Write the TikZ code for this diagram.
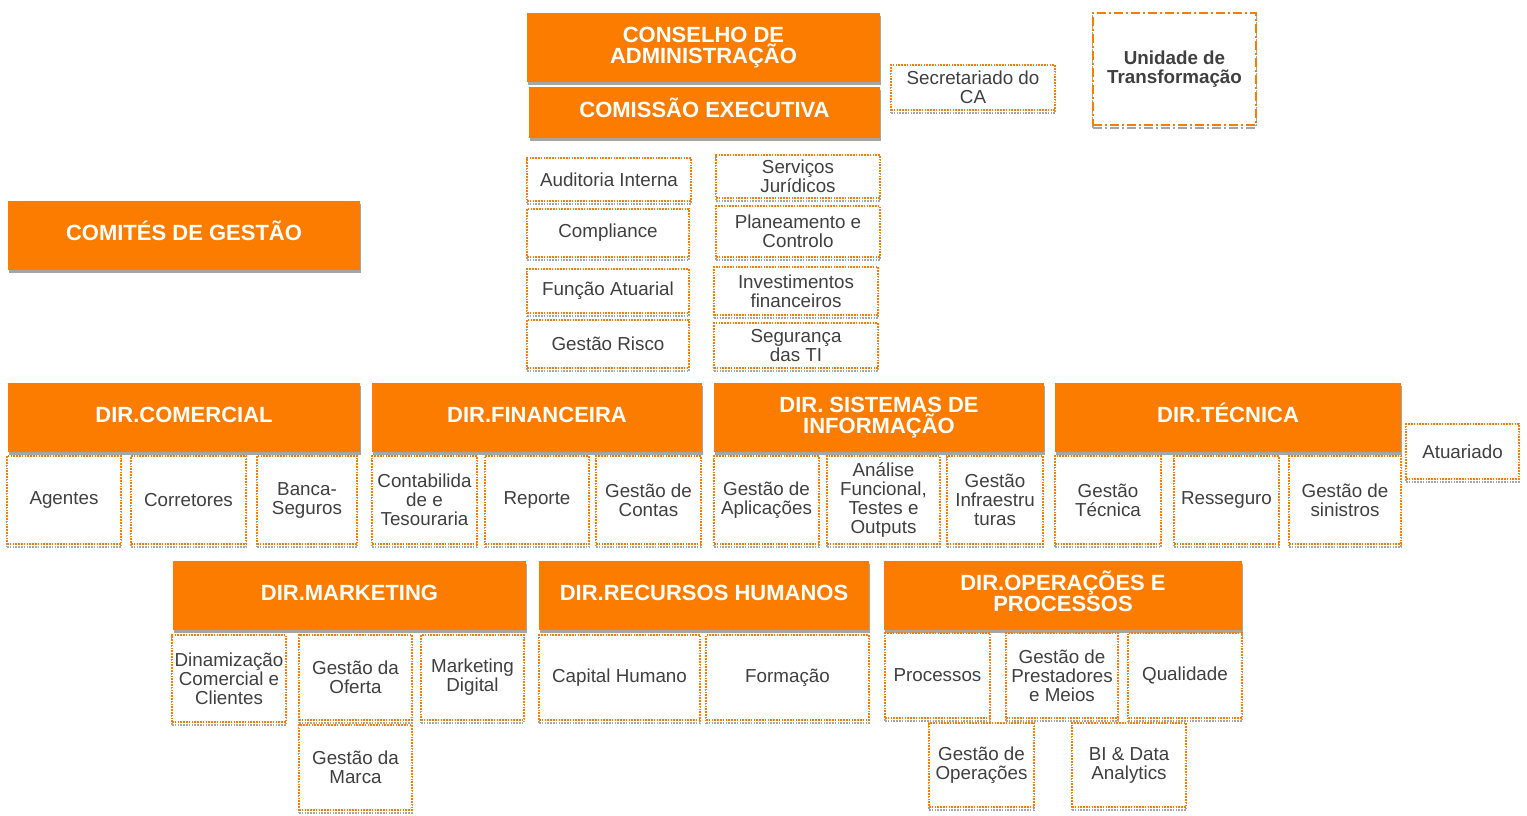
\documentclass[tikz,border=0pt]{standalone}
\usepackage{fontspec}
\setmainfont{Liberation Sans}
\usetikzlibrary{shadows}
\definecolor{org}{RGB}{252,124,0}
\definecolor{txt}{RGB}{64,64,64}
\definecolor{shd}{RGB}{165,165,165}
\tikzset{
 hdr/.style={fill=org, draw=none, text=white, font=\fontsize{22}{20.5}\selectfont\bfseries, align=center, inner sep=0pt,
   general shadow={fill=shd, shadow yshift=-3pt, shadow xshift=0.5pt}},
 hdrone/.style={hdr, text height=15.8pt, text depth=6pt},
 sub/.style={fill=white, draw=org, line width=1.6pt, dash pattern=on 1.6pt off 1.2pt, text=txt,
   font=\fontsize{18.8}{19}\selectfont, align=center, inner sep=0pt,
   general shadow={draw=shd, fill=none, line width=1.6pt, dash pattern=on 1.6pt off 1.2pt, shadow yshift=-3pt}},
 unitbox/.style={fill=white, draw=org, line width=2.2pt, dash pattern=on 9pt off 3pt on 2pt off 3pt, text=txt,
   font=\fontsize{18.8}{19}\selectfont\bfseries, align=center, inner sep=0pt,
   general shadow={draw=shd, fill=none, line width=2.2pt, dash pattern=on 9pt off 3pt on 2pt off 3pt, shadow yshift=-3pt}},
}
\begin{document}
\begin{tikzpicture}[x=1pt,y=-1pt]
\useasboundingbox[fill=white] (0,0) rectangle (1527,816);
% top
\node[hdr, minimum width=353, minimum height=69] (cons) at (703.5,47.5) {CONSELHO DE\\ADMINISTRAÇÃO};
\node[hdrone, minimum width=351, minimum height=51] (comex) at (704.5,112.5) {COMISSÃO EXECUTIVA};
\node[sub, minimum width=164, minimum height=45] (secr) at (973,87.5) {Secretariado do\\CA};
\node[unitbox, minimum width=163, minimum height=112] (unid) at (1174.5,69) {Unidade de\\Transformação};
\node[hdrone, minimum width=352, minimum height=69] (comites) at (184,235.5) {COMITÉS DE GESTÃO};
% staff functions
\node[sub, minimum width=164, minimum height=43] (aud) at (609,179.5) {Auditoria Interna};
\node[sub, minimum width=162, minimum height=48] (comp) at (608,233) {Compliance};
\node[sub, minimum width=162, minimum height=44] (fatu) at (608,291) {Função Atuarial};
\node[sub, minimum width=162, minimum height=48] (grisco) at (608,344) {Gestão Risco};
\node[sub, minimum width=164, minimum height=43] (sjur) at (798,176.5) {Serviços\\Jurídicos};
\node[sub, minimum width=164, minimum height=51] (plan) at (798,231.5) {Planeamento e\\Controlo};
\node[sub, minimum width=164, minimum height=48] (inv) at (796,291) {Investimentos\\financeiros};
\node[sub, minimum width=164, minimum height=45] (seg) at (796,345.5) {Segurança\\das TI};
% directorates row 1
\node[hdrone, minimum width=352, minimum height=69] (dcom) at (184,417.5) {DIR.COMERCIAL};
\node[hdrone, minimum width=330, minimum height=69] (dfin) at (537,417.5) {DIR.FINANCEIRA};
\node[hdr, minimum width=330, minimum height=69] (dsi) at (879,417.5) {DIR. SISTEMAS DE\\INFORMAÇÃO};
\node[hdrone, minimum width=346, minimum height=69] (dtec) at (1228,417.5) {DIR.TÉCNICA};
\node[sub, minimum width=114, minimum height=88] (agentes) at (64,500) {Agentes};
\node[sub, minimum width=115, minimum height=88] (corret) at (188.5,500) {Corretores};
\node[sub, minimum width=100, minimum height=88] (banca) at (307,500) {Banca-\\Seguros};
\node[sub, minimum width=105, minimum height=88] (contab) at (424.5,500) {Contabilida\\de e\\Tesouraria};
\node[sub, minimum width=104, minimum height=88] (reporte) at (537,500) {Reporte};
\node[sub, minimum width=105, minimum height=88] (gcontas) at (648.5,500) {Gestão de\\Contas};
\node[sub, minimum width=105, minimum height=88] (gapl) at (766.5,500) {Gestão de\\Aplicações};
\node[sub, minimum width=113, minimum height=88] (anal) at (883.5,500) {Análise\\Funcional,\\Testes e\\Outputs};
\node[sub, minimum width=96, minimum height=88] (ginfra) at (995,500) {Gestão\\Infraestru\\turas};
\node[sub, minimum width=106, minimum height=88] (gtec) at (1108,500) {Gestão\\Técnica};
\node[sub, minimum width=105, minimum height=88] (ress) at (1226.5,500) {Resseguro};
\node[sub, minimum width=112, minimum height=88] (gsin) at (1345,500) {Gestão de\\sinistros};
\node[sub, minimum width=113, minimum height=55] (atuar) at (1462.5,451.5) {Atuariado};
% directorates row 2
\node[hdrone, minimum width=353, minimum height=69] (dmkt) at (349.5,595.5) {DIR.MARKETING};
\node[hdrone, minimum width=330, minimum height=69] (drh) at (704,595.5) {DIR.RECURSOS HUMANOS};
\node[hdr, text depth=9pt, minimum width=358, minimum height=69] (dop) at (1063,595.5) {DIR.OPERAÇÕES E\\PROCESSOS};
\node[sub, minimum width=114, minimum height=87] (dinam) at (229,678.5) {Dinamização\\Comercial e\\Clientes};
\node[sub, minimum width=113, minimum height=85] (goferta) at (355.5,677.5) {Gestão da\\Oferta};
\node[sub, minimum width=103, minimum height=85] (mktd) at (472.5,677.5) {Marketing\\Digital};
\node[sub, minimum width=113, minimum height=85] (gmarca) at (355.5,767.5) {Gestão da\\Marca};
\node[sub, minimum width=161, minimum height=85] (caph) at (619.5,677.5) {Capital Humano};
\node[sub, minimum width=163, minimum height=85] (form) at (787.5,677.5) {Formação};
\node[sub, minimum width=105, minimum height=85] (proc) at (937.5,675.5) {Processos};
\node[sub, minimum width=112, minimum height=85] (gprest) at (1062,675.5) {Gestão de\\Prestadores\\e Meios};
\node[sub, minimum width=114, minimum height=85] (qual) at (1185,675.5) {Qualidade};
\node[sub, minimum width=105, minimum height=84] (gop) at (981.5,765) {Gestão de\\Operações};
\node[sub, minimum width=114, minimum height=84] (bi) at (1129,765) {BI \& Data\\Analytics};
\end{tikzpicture}
\end{document}
